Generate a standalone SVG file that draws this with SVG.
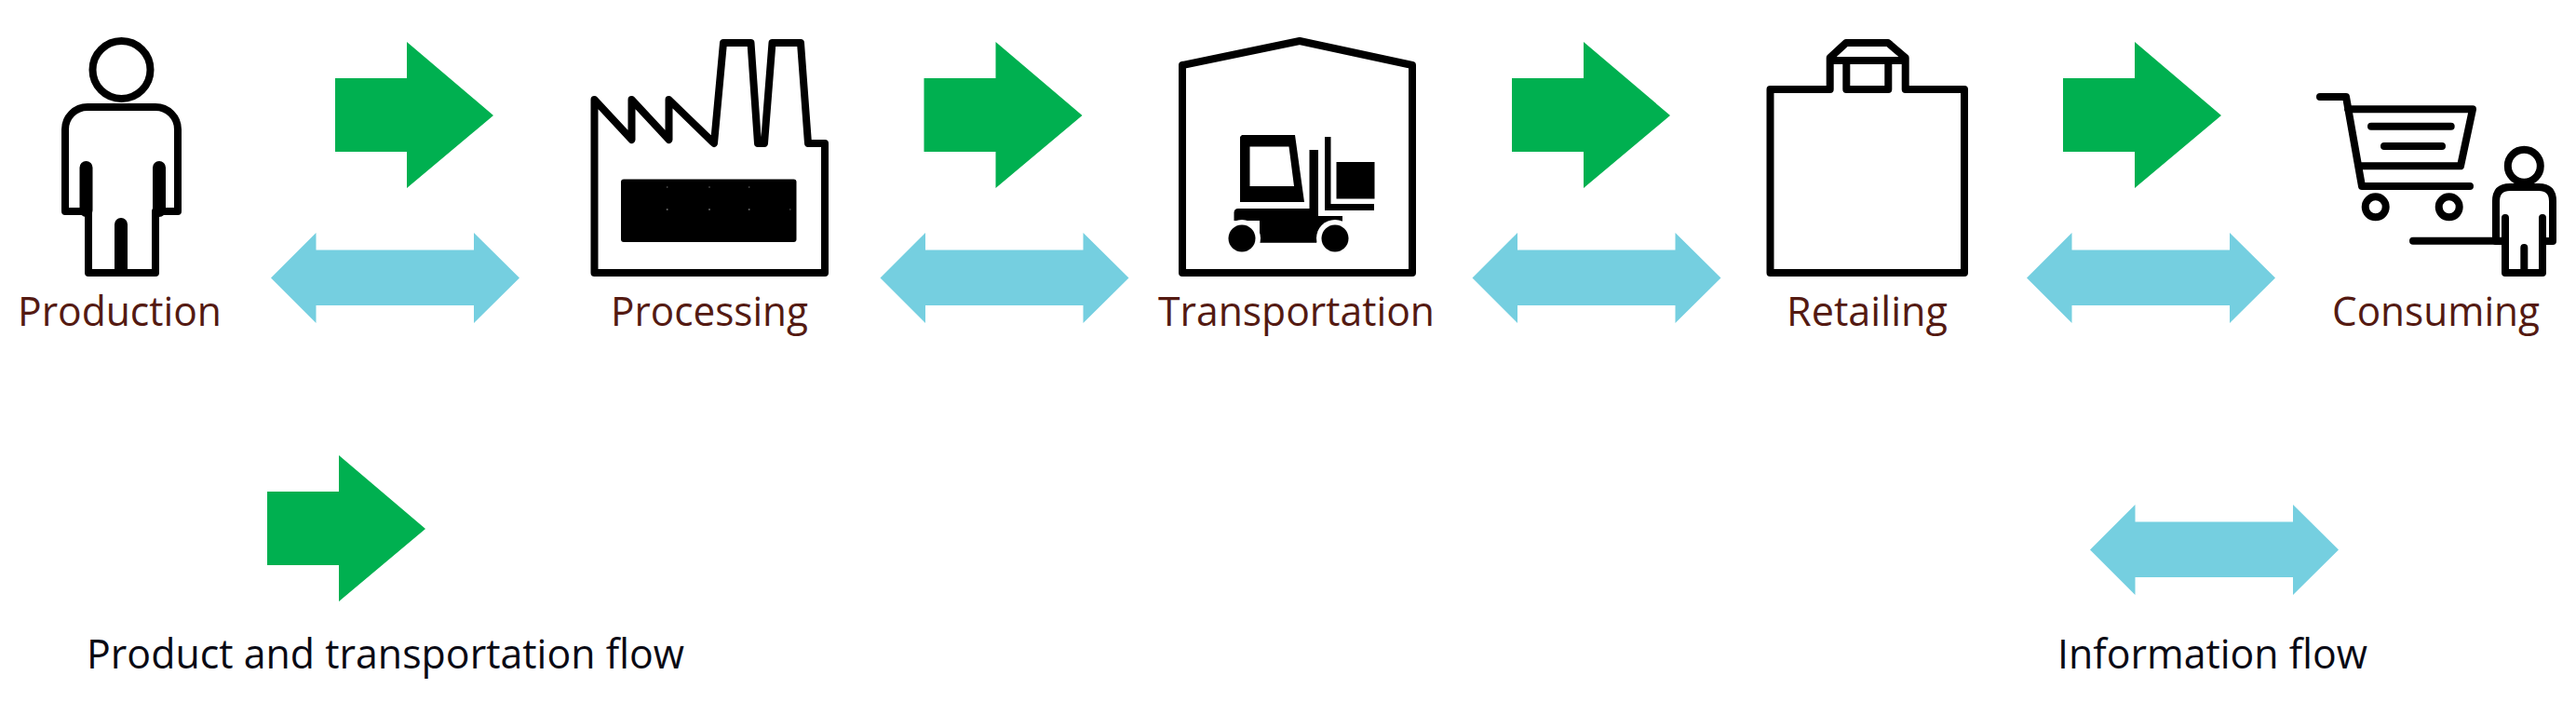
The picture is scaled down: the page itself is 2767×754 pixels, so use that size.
<svg xmlns="http://www.w3.org/2000/svg" width="2767" height="754" viewBox="0 0 2767 754">
<style>
.ln{fill:none;stroke:#000;stroke-width:8;stroke-linejoin:round;stroke-linecap:round}
.bar{fill:none;stroke:#000;stroke-width:14;stroke-linecap:round}
.k{fill:#000}
.g{fill:#00B050}
.b{fill:#75CFE0}
.t{font-family:"Open Sans","Noto Sans","Liberation Sans",sans-serif;font-size:44px;fill:#541a12}
.l{fill:#0a0a14}
</style>
<defs>
<path id="green" d="M0 39H77V0L170 79L77 157V118H0Z"/>
<path id="blue" d="M0 48.500L48.500 0V18.500H218V0L267 48.500L218 97V78H48.500V97Z"/>
</defs>
<rect width="2767" height="754" fill="#fff"/>
<g id="connectors">
<use href="#green" class="g" x="360" y="45"/>
<use href="#green" class="g" x="992.500" y="45"/>
<use href="#green" class="g" x="1624" y="45"/>
<use href="#green" class="g" x="2216" y="45"/>
<use href="#blue" class="b" x="291" y="250"/>
<use href="#blue" class="b" x="945.500" y="250"/>
<use href="#blue" class="b" x="1581.500" y="250"/>
<use href="#blue" class="b" x="2177" y="250"/>
</g>
<g id="production">
<circle class="ln" cx="130.500" cy="75" r="31"/>
<path class="ln" d="M95 293V227H70V139A24 24 0 0 1 94 115H167A24 24 0 0 1 191 139V227H167V293Z"/>
<path class="bar" d="M92.500 180V226M171 180V226M130 241V290"/>
<text class="t" x="19" y="350" textLength="219" lengthAdjust="spacingAndGlyphs">Production</text>
</g>
<g id="processing">
<path class="ln" d="M638.500 293V107L678.500 150V107L718.500 150V107L767 154L777 46H806.500L814 154H821L829.500 46H860L868 154H886V293Z"/>
<rect class="k" x="667" y="192.500" width="188.500" height="67.500" rx="3"/>
<g fill="#666"><circle cx="716.700" cy="201" r=".8"/><circle cx="762" cy="201" r=".8"/><circle cx="804.700" cy="201" r=".8"/><circle cx="716.700" cy="225" r="1"/><circle cx="762" cy="225" r="1"/><circle cx="804.700" cy="225" r="1"/><circle cx="848.800" cy="225" r=".7"/></g>
<text class="t" x="656" y="350" textLength="212" lengthAdjust="spacingAndGlyphs">Processing</text>
</g>
<g id="transportation">
<path class="ln" d="M1270 293V70L1396 44L1517 70V293Z"/>
<path class="k" fill-rule="evenodd" d="M1334 145H1391L1401 217H1332V147ZM1342.500 157.500V200H1390L1384.500 157.500Z"/>
<path class="k" d="M1406.500 161H1416V232H1442V238L1414 260.700H1353V237H1325.500V228Q1326 224 1330 224H1406.500Z"/>
<path class="k" d="M1423 147H1429.500V219H1476V226H1423Z"/>
<rect class="k" x="1435.500" y="174" width="41" height="39.500"/>
<circle cx="1334" cy="256" r="20" fill="#fff"/>
<circle cx="1434" cy="256" r="20" fill="#fff"/>
<circle class="k" cx="1334" cy="256" r="14.500"/>
<circle class="k" cx="1434" cy="256" r="14.500"/>
<text class="t" x="1244" y="350" textLength="297" lengthAdjust="spacingAndGlyphs">Transportation</text>
</g>
<g id="retailing">
<path class="ln" d="M1965.700 96H1901.500V293H2110V96H2046.700V62L2028 46H1983L1965.700 62ZM1983.300 65V96H2028.300V65M1965.700 65H2046.700"/>
<text class="t" x="1919" y="350" textLength="173" lengthAdjust="spacingAndGlyphs">Retailing</text>
</g>
<g id="consuming">
<path class="ln" d="M2492 104H2520L2537 200H2653M2522 117.300H2656L2643 178.300H2535M2547 135.700H2632.700M2561 157H2623M2592 258.700H2691"/>
<circle class="ln" cx="2551.700" cy="222.300" r="11"/>
<circle class="ln" cx="2630.700" cy="222.300" r="11"/>
<circle class="ln" cx="2711.300" cy="178.300" r="17.500"/>
<path class="ln" d="M2691 234V293H2731V234M2691 259H2681V216Q2681 201 2696 201H2727Q2742 201 2742 216V259H2731M2711.300 266V293"/>
<text class="t" x="2505" y="350" textLength="223" lengthAdjust="spacingAndGlyphs">Consuming</text>
</g>
<g id="legend-product">
<use href="#green" class="g" x="287" y="489"/>
<text class="t l" x="93" y="718" textLength="642" lengthAdjust="spacingAndGlyphs">Product and transportation flow</text>
</g>
<g id="legend-information">
<use href="#blue" class="b" x="2245" y="543" transform="translate(0 -1)"/>
<text class="t l" x="2210" y="718" textLength="333" lengthAdjust="spacingAndGlyphs">Information flow</text>
</g>
</svg>
